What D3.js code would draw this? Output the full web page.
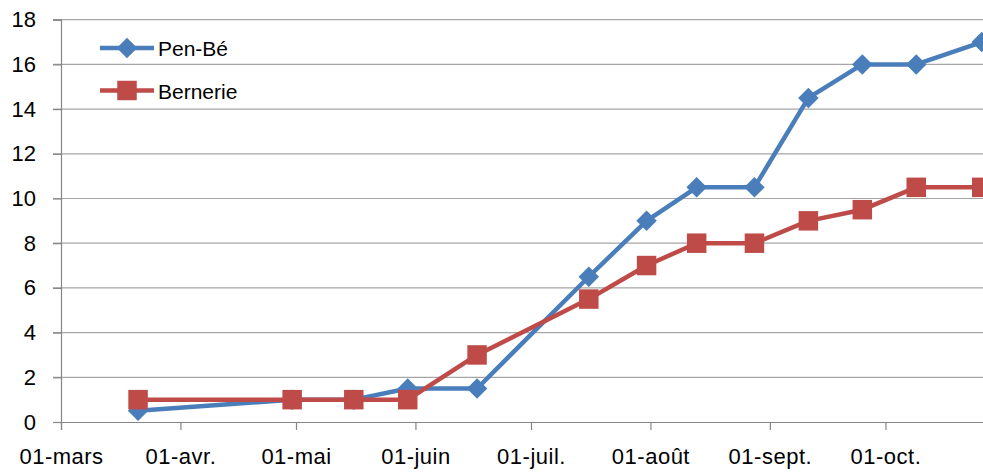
<!DOCTYPE html>
<html>
<head>
<meta charset="utf-8">
<style>
  body { margin: 0; background: #fff; }
  text { font-family: "Liberation Sans", Arial, sans-serif; fill: #000; }
</style>
</head>
<body>
<script src="https://d3js.org/d3.v7.min.js"></script>
<script>
// sampling dates (day-month)
var dates = ["2013-03-21", "2013-04-30", "2013-05-16", "2013-05-30", "2013-06-17",
             "2013-07-16", "2013-07-31", "2013-08-13", "2013-08-28", "2013-09-11",
             "2013-09-25", "2013-10-09", "2013-10-26"];
var penBe    = [0.5, 1, 1, 1.5, 1.5, 6.5, 9, 10.5, 10.5, 14.5, 16, 16, 17];
var bernerie = [1, 1, 1, 1, 3, 5.5, 7, 8, 8, 9, 9.5, 10.5, 10.5];
var seriesNames = ["Pen-Bé", "Bernerie"];
var monthTicks = ["2013-03-01", "2013-04-01", "2013-05-01", "2013-06-01", "2013-07-01",
                  "2013-08-01", "2013-09-01", "2013-10-01"];
var monthLabels = ["01-mars", "01-avr.", "01-mai", "01-juin", "01-juil.", "01-août", "01-sept.", "01-oct."];
var yTicks = [0, 2, 4, 6, 8, 10, 12, 14, 16, 18];

var w = 983, h = 472;
var plotLeft = 61, plotBottom = 422, plotTop = 19.7;
var blue = "#4a7ebb", red = "#be4b48";

var parse = d3.utcParse("%Y-%m-%d");
var svg = d3.select("body").append("svg")
    .attr("width", w).attr("height", h);

// plot area runs past the right edge of the picture (cropped)
var x = d3.scaleUtc()
    .domain([parse("2013-03-01"), parse("2013-11-01")])
    .range([plotLeft, plotLeft + 245 * 3.8525]);
var y = d3.scaleLinear().domain([0, 18]).range([plotBottom, plotTop]);

// gridlines
svg.append("g").selectAll("line")
    .data(yTicks.slice(1)).enter().append("line")
    .attr("x1", plotLeft - 8).attr("x2", w)
    .attr("y1", function(d){ return y(d); })
    .attr("y2", function(d){ return y(d); })
    .attr("stroke", "#a6a6a6").attr("stroke-width", 1.2);

// y axis
var yAxis = d3.axisLeft(y).tickValues(yTicks).tickSize(8).tickPadding(17);
var gy = svg.append("g").attr("transform", "translate(" + plotLeft + ",0)").call(yAxis);
gy.select(".domain").attr("stroke", "#868686").attr("stroke-width", 1.2);
gy.selectAll(".tick line").attr("stroke", "#868686").attr("stroke-width", 1.2);
gy.selectAll("text").style("font-size", "22px").attr("fill", "#000");

// x axis
var xAxis = d3.axisBottom(x)
    .tickValues(monthTicks.map(parse))
    .tickSize(8).tickPadding(18)
    .tickFormat(function(d, i){ return monthLabels[i]; });
var gx = svg.append("g").attr("transform", "translate(0," + plotBottom + ")").call(xAxis);
gx.select(".domain").attr("stroke", "#868686").attr("stroke-width", 1.2);
gx.selectAll(".tick line").attr("stroke", "#868686").attr("stroke-width", 1.2);
gx.selectAll("text").style("font-size", "22px").style("letter-spacing", "0.5px").attr("fill", "#000");

// series: diamond = square turned 45 degrees
var series = [
  { name: seriesNames[0], values: penBe, color: blue, size: 210, rot: 45 },
  { name: seriesNames[1], values: bernerie, color: red, size: 380, rot: 0 }
];
var line = d3.line()
    .x(function(d){ return x(d.date); })
    .y(function(d){ return y(d.value); });

series.forEach(function(s) {
  var pts = dates.map(function(d, i){ return { date: parse(d), value: s.values[i] }; });
  svg.append("path").datum(pts)
     .attr("d", line)
     .attr("fill", "none").attr("stroke", s.color)
     .attr("stroke-width", 4.5).attr("stroke-linejoin", "round");
  svg.append("g").selectAll("path")
     .data(pts).enter().append("path")
     .attr("transform", function(d){
       return "translate(" + x(d.date) + "," + y(d.value) + ") rotate(" + s.rot + ")";
     })
     .attr("d", d3.symbol().type(d3.symbolSquare).size(s.size))
     .attr("fill", s.color);
});

// legend
var legend = svg.append("g");
series.forEach(function(s, i) {
  var ly = 48 + i * 42.5;
  legend.append("line")
    .attr("x1", 100).attr("x2", 154).attr("y1", ly).attr("y2", ly)
    .attr("stroke", s.color).attr("stroke-width", 4.5);
  legend.append("path")
    .attr("transform", "translate(127," + ly + ") rotate(" + s.rot + ")")
    .attr("d", d3.symbol().type(d3.symbolSquare).size(s.size))
    .attr("fill", s.color);
  legend.append("text")
    .attr("x", 158).attr("y", ly + 8)
    .style("font-size", "21px")
    .text(s.name);
});
</script>
</body>
</html>
